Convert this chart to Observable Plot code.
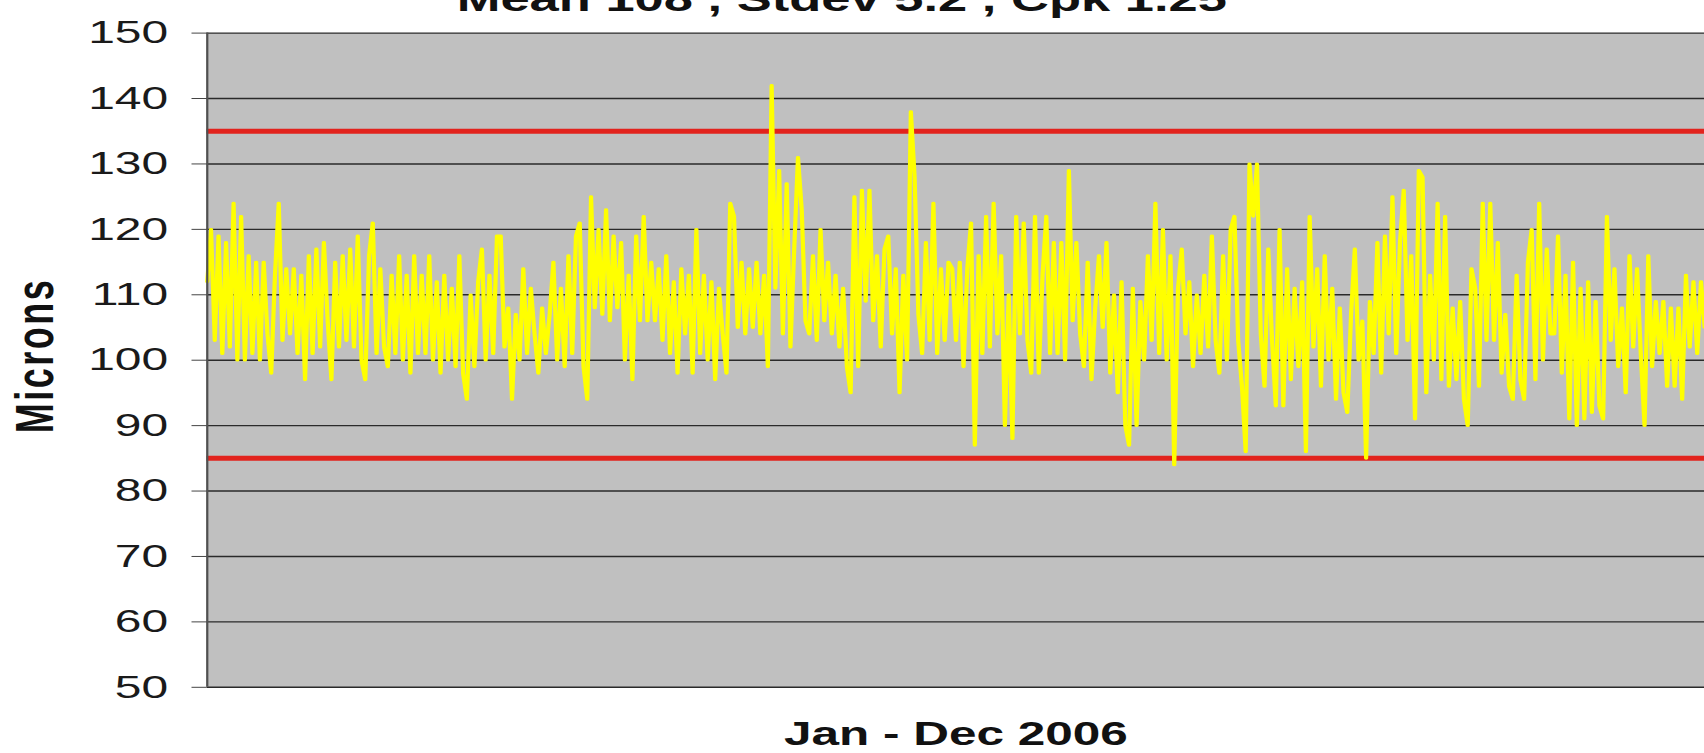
<!DOCTYPE html>
<html><head><meta charset="utf-8">
<script src="https://cdn.jsdelivr.net/npm/d3@7"></script>
<script src="https://cdn.jsdelivr.net/npm/@observablehq/plot@0.6"></script>
<style>
html,body{margin:0;padding:0;background:#fff;overflow:hidden;}
#chart{width:1704px;height:753px;overflow:hidden;}
#chart svg{transform:scaleX(1.5);transform-origin:0 0;display:block;}
</style></head><body><div id="chart"></div>
<script>
const title = "Mean 108 , Stdev 5.2 , Cpk 1.25";
const yLabel = "Microns";
const xLabel = "Jan - Dec 2006";
const yTicks = [50, 60, 70, 80, 90, 100, 110, 120, 130, 140, 150];
const specLimits = [85, 135];

const seg01 = [112,120,103,119,101,118,102,124,100,122,100,116,101,115,100,115,104,98,113,124,103,114,104,114,101,113,97,116,101,117,102,118,106,97,115,102,116,103];
const seg02 = [117,102,119,100,97,116,121,101,114,102,99,113,101,116,100,113,98,116,101,113,101,116,100,112,98,113,100,111,99,116,98,94,110,99,112,117,100,113,101,119];
const seg03 = [119,102,108,94,107,100,114,101,111,104,98,108,101,107,115,100,111,99,116,101,119,121,99,94,125,108,120,107,123,106,119,108,118,100,113,97,119,106,122,106];
const seg04 = [115,106,114,103,116,101,112,98,114,104,113,98,120,101,113,100,112,97,111,104,98,124,122,105,115,104,114,105,115,104,113,99,142,111,129,104,127,102,117,131];
const seg05 = [123,106,104,116,103,120,106,115,104,113,102,111,99,95,125,99,126,109,126,106,116,102,117,119,104,114,95,113,100,138,128,107,101,118,103,124,101,114,103,115];
const seg06 = [114,103,115,99,114,121,87,116,101,122,102,124,104,116,90,110,88,122,104,121,103,98,122,98,113,122,101,118,101,118,100,129,106,118,104,99,115,97,108,116];
const seg07 = [105,118,98,110,95,112,90,87,111,90,109,100,116,103,124,101,120,100,116,84,111,117,104,112,99,110,101,113,102,119,103,98,116,100,120,122,103,96,86,130];
const seg08 = [122,130,104,96,117,103,93,120,93,114,97,111,99,112,86,122,102,114,96,116,100,111,94,108,95,92,107,117,100,106,85,109,101,118,98,119,104,125,101,118];
const seg09 = [126,103,116,91,129,128,95,113,100,124,97,122,96,108,97,109,94,90,114,111,96,124,103,124,103,118,98,107,96,94,113,97,94,115,120,97,124,100,117,104];
const seg10 = [104,119,98,113,91,115,90,111,91,112,92,109,93,91,122,103,114,99,108,95,116,102,114,101,90,116,99,109,101,109,96,108,96,108,94,113,102,112,101,112,105];

const microns = [...seg01, ...seg02, ...seg03, ...seg04, ...seg05, ...seg06, ...seg07, ...seg08, ...seg09, ...seg10];
const data = microns.map((v, i) => ({i, v}));

const S = 1.5;
const W = 1704 / S, H = 753;
const mL = 206.5 / S, mT = 32.6, mB = 753 - 686.8;

const chart = Plot.plot({
  width: W, height: H,
  marginLeft: mL, marginRight: 0, marginTop: mT, marginBottom: mB,
  style: {background: "#fff", fontFamily: "'Liberation Sans', Arial, sans-serif", color: "#1a1a1a"},
  x: {domain: [0, microns.length - 1], axis: null},
  y: {domain: [50, 150]},
  marks: [
    Plot.frame({fill: "#c0c0c0", stroke: null}),
    Plot.ruleY(yTicks, {stroke: "#2a2a2a", strokeWidth: 1.4}),
    Plot.ruleY(specLimits, {stroke: "#e2231d", strokeWidth: 5}),
    Plot.lineY(data, {x: "i", y: "v", stroke: "#ffff00", strokeWidth: 2.8}),
    Plot.ruleX([0], {stroke: "#505050", strokeWidth: 1.5}),
    Plot.axisY({ticks: yTicks, tickSize: 10, tickPadding: 16, fontSize: 32, stroke: "#444", fill: "#1a1a1a", label: null, tickFormat: d => String(d)}),
    Plot.text([title], {frameAnchor: "top-left", dx: 560.7 - mL, dy: -22, textAnchor: "middle", lineAnchor: "bottom", fontSize: 35, fontWeight: "bold", fill: "#111"}),
    Plot.text([xLabel], {frameAnchor: "bottom", dy: 58, lineAnchor: "bottom", fontSize: 33, fontWeight: "bold", fill: "#111"}),
    Plot.text([yLabel], {frameAnchor: "left", dx: 23 - mL, dy: -4.7, rotate: -90, textAnchor: "middle", lineAnchor: "middle", fontSize: 36, fontWeight: "bold", fill: "#111"})
  ]
});
d3.select(chart).selectAll("text").filter(function() { return this.textContent === yLabel; }).style("letter-spacing", "2.5px");
document.getElementById("chart").appendChild(chart);
</script>
</body></html>
